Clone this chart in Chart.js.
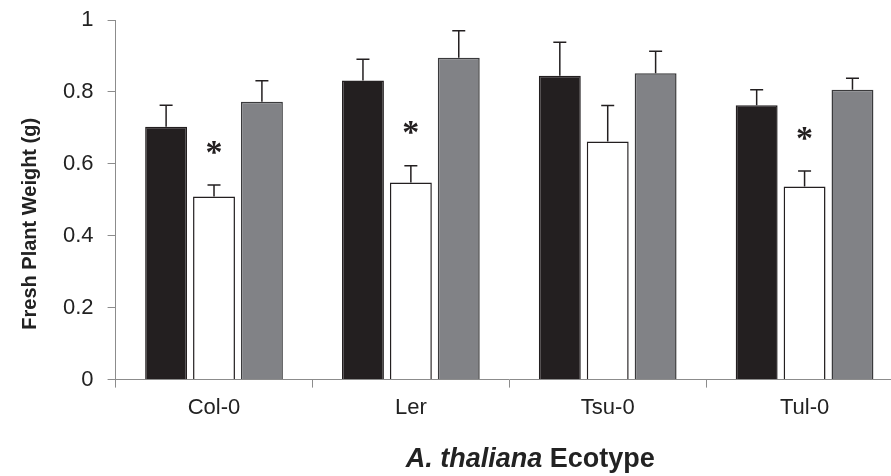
<!DOCTYPE html>
<html>
<head>
<meta charset="utf-8">
<script src="https://cdn.jsdelivr.net/npm/chart.js@4.4.0/dist/chart.umd.min.js"></script>
<style>
  html, body { margin: 0; padding: 0; background: #fff; overflow: hidden; }
  #wrap { width: 920px; height: 476px; }
</style>
</head>
<body>
<div id="wrap"><canvas id="myChart" width="920" height="476"></canvas></div>
<script>
// data
var ecotypes = ["Col-0", "Ler", "Tsu-0", "Tul-0"];
var blackVals = [0.703, 0.832, 0.845, 0.763];
var blackErr  = [0.060, 0.059, 0.093, 0.043];
var whiteVals = [0.509, 0.548, 0.662, 0.537];
var whiteErr  = [0.032, 0.047, 0.100, 0.043];
var greyVals  = [0.773, 0.895, 0.852, 0.806];
var greyErr   = [0.058, 0.075, 0.061, 0.032];
var significant = [true, true, false, true]; // asterisk over white bar
var yTicks = [0, 0.2, 0.4, 0.6, 0.8, 1];

var FONT = "'Liberation Sans', Arial, sans-serif";
var INK = "#231f20";

// error bars + asterisks
var errorBars = {
  id: 'errorBars',
  afterDatasetsDraw: function(chart) {
    var ctx = chart.ctx, y = chart.scales.y;
    ctx.save();
    chart.data.datasets.forEach(function(ds, i) {
      var meta = chart.getDatasetMeta(i);
      meta.data.forEach(function(bar, j) {
        var top = y.getPixelForValue(ds.data[j] + ds.errors[j]);
        ctx.strokeStyle = INK;
        ctx.lineWidth = 1.5;
        ctx.beginPath();
        ctx.moveTo(bar.x, bar.y);
        ctx.lineTo(bar.x, top);
        ctx.moveTo(bar.x - 6.5, top);
        ctx.lineTo(bar.x + 6.5, top);
        ctx.stroke();
        if (ds.stars && ds.stars[j]) {
          ctx.fillStyle = INK;
          ctx.font = "bold 34px 'Liberation Serif', 'Times New Roman', serif";
          ctx.textAlign = 'center';
          ctx.textBaseline = 'alphabetic';
          var m = ctx.measureText('*');
          var h = m.actualBoundingBoxAscent - m.actualBoundingBoxDescent;
          var cy = top - 29;
          ctx.fillText('*', bar.x, cy + m.actualBoundingBoxAscent - h / 2);
        }
      });
    });
    ctx.restore();
  }
};

// axis titles (mixed italic / bold)
var axisTitles = {
  id: 'axisTitles',
  afterDraw: function(chart) {
    var ctx = chart.ctx, a = chart.chartArea;
    ctx.save();
    ctx.fillStyle = "#222";
    ctx.textBaseline = 'alphabetic';
    // x title
    var p1 = "A. thaliana", p2 = " Ecotype";
    ctx.font = "italic bold 27px " + FONT;
    var w1 = ctx.measureText(p1).width;
    ctx.font = "bold 27px " + FONT;
    var w2 = ctx.measureText(p2).width;
    var x0 = (a.left + a.right) / 2 + 21 - (w1 + w2) / 2;
    ctx.textAlign = 'left';
    ctx.font = "italic bold 27px " + FONT;
    ctx.fillText(p1, x0, 467);
    ctx.font = "bold 27px " + FONT;
    ctx.fillText(p2, x0 + w1, 467);
    // y title
    ctx.translate(30, (a.top + a.bottom) / 2 + 24);
    ctx.rotate(-Math.PI / 2);
    ctx.textAlign = 'center';
    ctx.textBaseline = 'middle';
    ctx.font = "bold 20px " + FONT;
    ctx.fillText("Fresh Plant Weight (g)", 0, 0);
    ctx.restore();
  }
};

var ctx = document.getElementById("myChart").getContext("2d");
var myChart = new Chart(ctx, {
  type: 'bar',
  data: {
    labels: ecotypes,
    datasets: [{
      label: "Series 1",
      data: blackVals,
      errors: blackErr,
      backgroundColor: INK,
      borderColor: INK,
      borderWidth: 1.5,
      categoryPercentage: 0.73,
      barPercentage: 0.875
    }, {
      label: "Series 2",
      data: whiteVals,
      errors: whiteErr,
      stars: significant,
      backgroundColor: "#ffffff",
      borderColor: INK,
      borderWidth: 1.5,
      categoryPercentage: 0.73,
      barPercentage: 0.875
    }, {
      label: "Series 3",
      data: greyVals,
      errors: greyErr,
      backgroundColor: "#818286",
      borderColor: "#3a3a3c",
      borderWidth: 1.5,
      categoryPercentage: 0.73,
      barPercentage: 0.875
    }]
  },
  options: {
    responsive: false,
    animation: false,
    layout: { padding: { left: 49, right: 17, top: 20, bottom: 48 } },
    plugins: { legend: { display: false }, tooltip: { enabled: false } },
    scales: {
      x: {
        grid: { display: true, drawOnChartArea: false, drawTicks: true, tickLength: 8, color: "#8c8c8c", offset: true },
        border: { display: true, color: "#8c8c8c", width: 1 },
        ticks: { color: "#222", font: { family: FONT, size: 22 }, padding: 7 }
      },
      y: {
        min: 0, max: 1,
        afterBuildTicks: function(axis) {
          axis.ticks = yTicks.map(function(v) { return { value: v }; });
        },
        grid: { display: true, drawOnChartArea: false, drawTicks: true, tickLength: 8, color: "#8c8c8c" },
        border: { display: true, color: "#8c8c8c", width: 1 },
        ticks: {
          color: "#222", font: { family: FONT, size: 22, lineHeight: 0.5 }, padding: 14,
          callback: function(v) { return String(v); }
        }
      }
    }
  },
  plugins: [errorBars, axisTitles]
});
</script>
</body>
</html>
